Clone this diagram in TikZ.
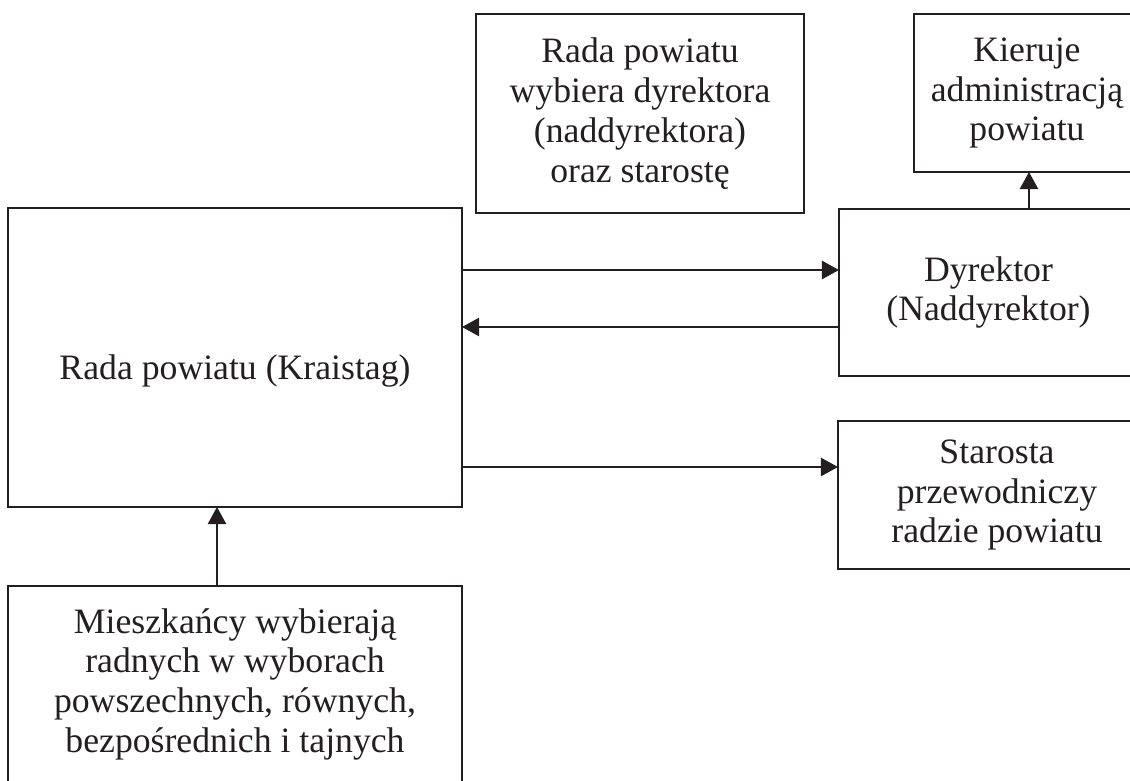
\documentclass[tikz,border=0pt]{standalone}
\usepackage{fontspec}
\setmainfont{Liberation Serif}
\usepackage{tikz}
\usetikzlibrary{arrows.meta, calc}

\definecolor{ink}{HTML}{231F20}

\begin{document}
\begin{tikzpicture}[
    box/.style={rectangle, draw=ink, line width=1.2pt, outer sep=0pt, inner sep=0pt, align=center, text=ink,
        font=\fontsize{25.4pt}{28.3pt}\selectfont},
    txt/.style={inner sep=0pt, text=ink, font=\fontsize{25.4pt}{28.3pt}\selectfont},
    arrow/.style={-{Triangle[length=4.3mm, width=4.6mm]}, draw=ink, fill=ink, line width=1.2pt}
]
\useasboundingbox (0,0) rectangle (28.25,-19.5);
\node[box, minimum width=5.65cm, minimum height=3.95cm] (kier) at (25.675,-2.325) {Kieruje\\administracją\\powiatu};
\node[box, minimum width=8.2cm, minimum height=4.975cm] (wybor) at (16.0,-2.84) {Rada powiatu\\wybiera dyrektora\\(naddyrektora)\\oraz starostę};
\node[box, minimum width=11.35cm, minimum height=7.475cm] (rada) at (5.875,-8.9375) {};
\node[txt] (radatxt) at ([yshift=-0.33cm]rada.center) {Rada powiatu (Kraistag)};
\node[box, minimum width=7.475cm, minimum height=4.175cm] (dyr) at (24.7125,-7.3125) {Dyrektor\\(Naddyrektor)};
\node[box, minimum width=7.95cm, minimum height=3.7cm] (star) at (24.925,-12.375) {Starosta\\przewodniczy\\radzie powiatu};
\node[box, minimum width=11.35cm, minimum height=4.91cm] (mies) at (5.875,-17.105) {Mieszkańcy wybierają\\radnych w wyborach\\powszechnych, równych,\\bezpośrednich i tajnych};

\draw[arrow] ([yshift=2.1875cm]rada.east) -- ([yshift=2.1875cm]rada.east -| dyr.west);
\draw[arrow] ([yshift=-0.8625cm]dyr.west) -- ([yshift=-0.8625cm]dyr.west -| rada.east);
\draw[arrow] ([yshift=0.7cm]star.west -| rada.east) -- ([yshift=0.7cm]star.west);
\draw[arrow] ([xshift=-0.45cm]mies.north) -- ([xshift=-0.45cm]mies.north |- rada.south);
\draw[arrow] ([xshift=1.0125cm]dyr.north) -- ([xshift=1.0125cm]dyr.north |- kier.south);
\end{tikzpicture}
\end{document}
